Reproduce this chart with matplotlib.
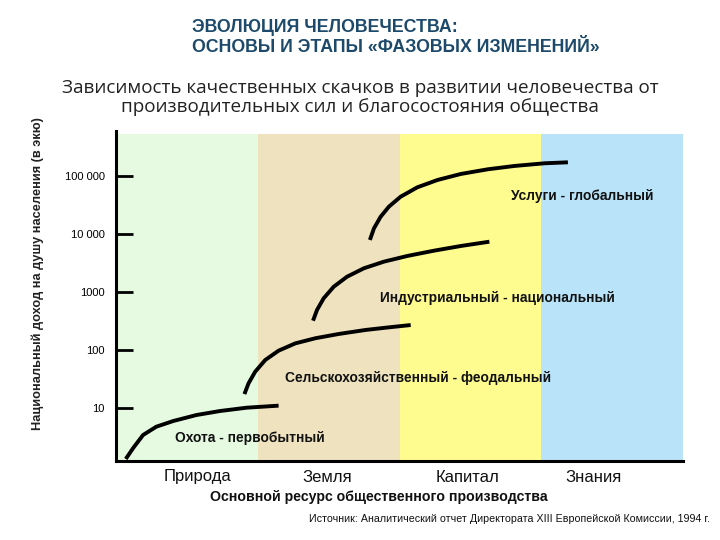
import matplotlib
matplotlib.use("Agg")
import matplotlib.pyplot as plt

plt.rcParams['font.family'] = ['Liberation Sans', 'DejaVu Sans']

# ---- data ----
categories = ["Природа", "Земля", "Капитал", "Знания"]
band_colors = ["#e5fae1", "#eee2bf", "#fefb8f", "#b9e3f8"]

ytick_values = [10, 100, 1000, 10000, 100000]
ytick_labels = ["10", "100", "1000", "10 000", "100 000"]

hunt_x = [0.069, 0.120, 0.191, 0.285, 0.404, 0.568, 0.734, 0.922, 1.147]
hunt_y = [1.3, 1.99, 3.37, 4.69, 5.87, 7.45, 8.73, 9.96, 10.8]

agri_x = [0.906, 0.935, 0.982, 1.053, 1.147, 1.265, 1.407, 1.572, 1.761, 1.926, 2.079]
agri_y = [17.1, 26.2, 41.6, 66.2, 95.8, 128, 157, 186, 218, 242, 265]

ind_x = [1.390, 1.418, 1.465, 1.536, 1.630, 1.749, 1.890, 2.055, 2.244, 2.433, 2.634]
ind_y = [315, 482, 766, 1214, 1806, 2523, 3281, 4113, 5075, 6112, 7249]

serv_x = [1.791, 1.820, 1.867, 1.925, 2.008, 2.126, 2.268, 2.433, 2.624, 2.812, 3.024, 3.188]
serv_y = [7762, 12330, 19540, 29090, 43250, 62810, 83950, 106700, 128500, 146600, 163000, 169400]

stage_labels = ["Охота - первобытный", "Сельскохозяйственный - феодальный",
                "Индустриальный - национальный", "Услуги - глобальный"]

W, H = 720, 540
fig = plt.figure(figsize=(7.2, 5.4), dpi=100)
ax = fig.add_axes([116 / W, 1 - 461 / H, (683 - 116) / W, (461 - 131) / H])

ax.set_yscale('log')
ax.set_xlim(0, 4)
ax.set_ylim(1.2, 5.87e5)

for i, c in enumerate(band_colors):
    ax.axvspan(i, i + 1, ymin=0, ymax=0.99, color=c, lw=0, zorder=0)

for xs, ys in [(hunt_x, hunt_y), (agri_x, agri_y), (ind_x, ind_y), (serv_x, serv_y)]:
    ax.plot(xs, ys, color='black', lw=2.8, solid_capstyle='butt', solid_joinstyle='round', zorder=3)

for s in ['top', 'right']:
    ax.spines[s].set_visible(False)
for s in ['left', 'bottom']:
    ax.spines[s].set_linewidth(2.2)
    ax.spines[s].set_color('black')

ax.set_yticks(ytick_values)
ax.set_yticklabels(ytick_labels, fontsize=8)
ax.yaxis.set_minor_locator(matplotlib.ticker.NullLocator())
ax.tick_params(axis='y', direction='in', length=12, width=2, pad=8, colors='black')
ax.set_xticks([])

# category labels under axis
cat_px = [197, 327, 468, 594]
for name, px in zip(categories, cat_px):
    fig.text(px / W, 1 - 477 / H, name, ha='center', va='center', fontsize=12, color='#111111')

# stage annotations
ann = [(250, 438), (418, 378), (497, 298), (582, 196)]
for txt, (px, py) in zip(stage_labels, ann):
    fig.text(px / W, 1 - py / H, txt, ha='center', va='center', fontsize=9.9,
             fontweight='bold', color='#111111')

# titles
fig.text(192 / W, 1 - 27 / H, "ЭВОЛЮЦИЯ ЧЕЛОВЕЧЕСТВА:", ha='left', va='center',
         fontsize=12.8, fontweight='bold', color='#1d4a6a')
fig.text(192 / W, 1 - 47 / H, "ОСНОВЫ И ЭТАПЫ «ФАЗОВЫХ ИЗМЕНЕНИЙ»", ha='left', va='center',
         fontsize=12.8, fontweight='bold', color='#1d4a6a')

fig.text(360 / W, 1 - 88 / H, "Зависимость качественных скачков в развитии человечества от",
         ha='center', va='center', fontsize=13.6, family='Open Sans', color='#222222')
fig.text(360 / W, 1 - 107 / H, "производительных сил и благосостояния общества",
         ha='center', va='center', fontsize=13.6, family='Open Sans', color='#222222')

fig.text(38 / W, 1 - 274 / H, "Национальный доход на душу населения (в экю)",
         rotation=90, ha='center', va='center', fontsize=9.2, fontweight='bold', color='#222222')

fig.text(379 / W, 1 - 497 / H, "Основной ресурс общественного производства",
         ha='center', va='center', fontsize=10.2, fontweight='bold', color='#111111')
fig.text(710 / W, 1 - 519 / H,
         "Источник: Аналитический отчет Директората XIII Европейской Комиссии, 1994 г.",
         ha='right', va='center', fontsize=7.7, color='#111111')

fig.savefig("out.png", dpi=100)
